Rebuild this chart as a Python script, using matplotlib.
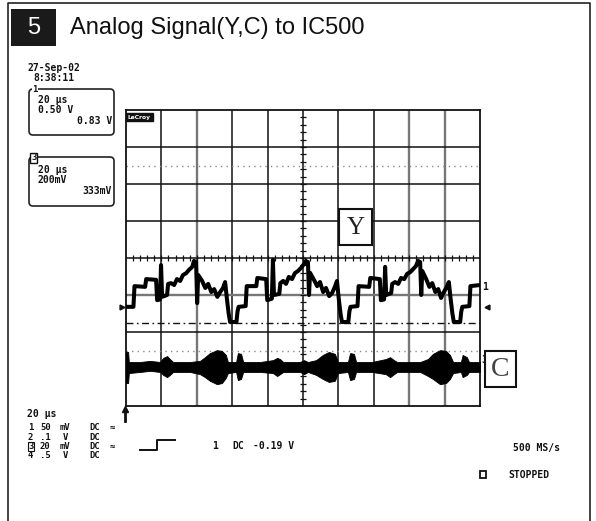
import matplotlib.pyplot as plt
from matplotlib.patches import Rectangle, FancyBboxPatch
import numpy as np

W, H = 596, 521

# channel 1 (Y signal) trace in divisions (20 us/div)
y_t = [0.00, 0.21, 0.24, 0.54, 0.57, 0.85, 0.88, 0.96, 0.99, 1.02, 1.16, 1.19, 1.27, 1.36,
       1.44, 1.53, 1.61, 1.70, 1.78, 1.87, 1.92, 1.98, 2.01, 2.04, 2.15, 2.24, 2.32, 2.41,
       2.49, 2.58, 2.66, 2.74, 2.80, 2.85, 2.90, 2.94, 3.12, 3.15,
       3.18, 3.38, 3.41, 3.68, 3.71, 3.96, 3.99, 4.12, 4.15, 4.18, 4.33, 4.36, 4.44, 4.52,
       4.60, 4.69, 4.77, 4.86, 4.94, 5.03, 5.08, 5.14, 5.17, 5.20, 5.31, 5.40, 5.48, 5.57,
       5.65, 5.74, 5.82, 5.90, 5.96, 6.01, 6.06, 6.10, 6.28, 6.31,
       6.34, 6.54, 6.57, 6.87, 6.90, 7.17, 7.20, 7.29, 7.32, 7.35, 7.49, 7.52, 7.60, 7.69,
       7.77, 7.86, 7.94, 8.03, 8.11, 8.19, 8.25, 8.31, 8.34, 8.37, 8.48, 8.57, 8.65, 8.74,
       8.82, 8.90, 8.98, 9.06, 9.12, 9.17, 9.22, 9.26, 9.44, 9.47,
       9.50, 9.70, 9.73, 10.00]
y_v = [-1.32, -1.32, -0.76, -0.78, -0.57, -0.59, -1.14, -1.12, -0.19, -1.05, -1.00, -0.70, -0.68, -0.73,
       -0.57, -0.62, -0.46, -0.41, -0.32, -0.24, -0.08, -0.11, -1.22, -0.46, -0.62, -0.81, -0.70, -0.92,
       -0.84, -1.05, -0.92, -0.81, -0.65, -1.10, -1.50, -1.73, -1.73, -1.45,
       -1.32, -1.30, -0.76, -0.76, -0.54, -0.57, -1.14, -1.10, -0.05, -1.00, -0.97, -0.68, -0.62, -0.70,
       -0.51, -0.57, -0.41, -0.35, -0.27, -0.16, -0.08, -0.11, -1.00, -0.40, -0.59, -0.76, -0.65, -0.92,
       -0.81, -1.03, -0.95, -0.78, -0.62, -1.10, -1.50, -1.73, -1.73, -1.45,
       -1.32, -1.30, -0.76, -0.78, -0.54, -0.57, -1.14, -1.12, -0.24, -1.00, -0.95, -0.70, -0.65, -0.70,
       -0.54, -0.57, -0.43, -0.38, -0.30, -0.22, -0.08, -0.11, -1.00, -0.35, -0.57, -0.78, -0.68, -0.92,
       -0.84, -1.08, -0.92, -0.78, -0.65, -1.10, -1.50, -1.73, -1.73, -1.45,
       -1.32, -1.30, -0.76, -0.73]

# channel 3 (C signal) envelope, divisions
c_t = [0.00, 0.06, 0.08, 0.40, 0.68, 0.96, 1.05, 1.16, 1.24, 1.33, 1.81, 2.09, 2.23, 2.37,
       2.57, 2.71, 2.82, 2.88, 3.11, 3.16, 3.25, 3.31, 3.79, 4.15, 4.27, 4.35, 4.44, 4.92,
       5.03, 5.14, 5.37, 5.56, 5.73, 5.90, 5.99, 6.27, 6.33, 6.44, 6.50, 6.95, 7.34, 7.46,
       7.57, 7.66, 8.31, 8.53, 8.67, 8.87, 9.04, 9.15, 9.24, 9.46, 9.51, 9.63, 9.69, 10.00]
c_hi = [-2.54, -2.54, -2.81, -2.81, -2.78, -2.81, -2.70, -2.65, -2.73, -2.81, -2.81, -2.78, -2.68, -2.57,
        -2.49, -2.51, -2.62, -2.81, -2.81, -2.57, -2.59, -2.81, -2.81, -2.76, -2.70, -2.73, -2.81, -2.81,
        -2.76, -2.81, -2.76, -2.62, -2.54, -2.59, -2.81, -2.81, -2.57, -2.59, -2.81, -2.81, -2.73, -2.68,
        -2.76, -2.81, -2.81, -2.73, -2.59, -2.49, -2.51, -2.62, -2.81, -2.81, -2.62, -2.68, -2.81, -2.81]
c_lo = [-3.38, -3.38, -3.11, -3.08, -3.05, -3.08, -3.16, -3.22, -3.16, -3.08, -3.08, -3.14, -3.22, -3.32,
        -3.41, -3.38, -3.24, -3.11, -3.08, -3.30, -3.27, -3.08, -3.08, -3.11, -3.19, -3.14, -3.08, -3.08,
        -3.14, -3.08, -3.16, -3.27, -3.35, -3.32, -3.11, -3.08, -3.30, -3.27, -3.08, -3.08, -3.14, -3.22,
        -3.14, -3.08, -3.08, -3.19, -3.27, -3.41, -3.38, -3.27, -3.11, -3.08, -3.22, -3.16, -3.08, -3.08]

# cursor levels (divisions)
dotted_levels = [2.5, -2.5]
dashdot_level = -1.75

# readouts
rows_ch = ['1', '2', '3', '4']
rows_val = ['50', '.1', '20', '.5']
rows_unit = ['mV', 'V', 'mV', 'V']
rows_bw = ['\u2248', '', '\u2248', '']

mono = dict(family='DejaVu Sans Mono', fontsize=7.0, fontweight='bold', color='#111111', va='center')
small = dict(mono, fontsize=6.4)

fig = plt.figure(figsize=(W / 100, H / 100), dpi=100)

# scope screen
ax = fig.add_axes([126 / W, 1 - 406 / H, 354 / W, 296 / H])
ax.set_xlim(0, 10)
ax.set_ylim(-4, 4)
ax.set_xticks([])
ax.set_yticks([])
for s in ax.spines.values():
    s.set_linewidth(1.3)
    s.set_color('#111111')

for i in range(1, 10):
    gray = i in (2, 8, 9)
    ax.axvline(i, color='#777777' if gray else '#111111', lw=1.7 if gray else 1.1, zorder=1)
for j in range(-3, 4):
    gray = j == -1
    ax.axhline(j, color='#777777' if gray else '#111111', lw=1.7 if gray else 1.1, zorder=1)

# center-line tick marks
tk = np.arange(0.2, 10, 0.2)
ax.vlines(tk, -0.07, 0.07, color='#111111', lw=0.9, zorder=1)
tk = np.arange(-3.8, 4, 0.2)
ax.hlines(tk, 4.92, 5.08, color='#111111', lw=0.9, zorder=1)

for lv in dotted_levels:
    ax.axhline(lv, color='#8a8a8a', lw=1.0, linestyle=(0, (1, 3)), zorder=1)
ax.axhline(dashdot_level, color='#111111', lw=1.0, linestyle=(0, (5, 2.5, 1.2, 2.5)), zorder=1)

ax.plot(y_t, y_v, color='black', lw=2.9, zorder=3)
ax.fill_between(c_t, c_lo, c_hi, color='black', lw=0.6, zorder=3)

# page overlay
pg = fig.add_axes([0, 0, 1, 1], facecolor='none')
pg.set_xlim(0, W)
pg.set_ylim(H, 0)
pg.axis('off')

pg.plot([8, 8, 590, 590], [H, 3, 3, H], color='#222222', lw=1.2)

pg.add_patch(Rectangle((11, 9), 45, 37, fc='#1a1a1a', ec='none'))
pg.text(33.5, 28, '5', color='white', fontsize=17, family='Liberation Sans', ha='center', va='center')
pg.text(70, 28, 'Analog Signal(Y,C) to IC500', color='#111111', fontsize=17,
        family='Liberation Sans', va='center')

pg.text(27, 68, '27-Sep-02', **mono)
pg.text(33, 78, '8:38:11', **mono)

pg.add_patch(FancyBboxPatch((29, 89), 85, 46, boxstyle='round,pad=0,rounding_size=4',
                            fc='white', ec='#222222', lw=1.2))
pg.text(32, 90, '1', bbox=dict(fc='white', ec='none', pad=0.2), **small)
pg.text(38, 100, '20 \u00b5s', **mono)
pg.text(38, 110, '0.50 V', **mono)
pg.text(112, 121, '0.83 V', ha='right', **mono)

pg.add_patch(FancyBboxPatch((29, 157), 85, 49, boxstyle='round,pad=0,rounding_size=4',
                            fc='white', ec='#222222', lw=1.2))
pg.text(31, 158, '3', bbox=dict(fc='white', ec='#111111', lw=1, pad=0.4), **small)
pg.text(38, 170, '20 \u00b5s', **mono)
pg.text(38, 180, '200mV', **mono)
pg.text(112, 191, '333mV', ha='right', **mono)

# LeCroy logo
pg.text(128, 117, 'LeCroy', color='white', family='DejaVu Sans', fontsize=4.3, fontweight='bold',
        va='center', bbox=dict(fc='#111111', ec='#111111', pad=1.2))

# trace markers
pg.text(482, 287, '1', **mono)
pg.plot(122, 307, marker='>', ms=3.5, color='#111111')
pg.plot(487, 307, marker='<', ms=3.5, color='#111111')
pg.text(481, 360, '3', **mono)
pg.plot([125, 125], [409, 421], color='#111111', lw=2)
pg.plot(125, 409, marker='^', ms=4, color='#111111')

# Y and C labels
pg.add_patch(Rectangle((339, 209), 33, 36, fc='white', ec='#111111', lw=1.5, zorder=5))
pg.text(355.5, 228, 'Y', family='Liberation Serif', fontsize=18, color='#222222',
        ha='center', va='center', zorder=6)
pg.add_patch(Rectangle((485, 351), 31, 36, fc='white', ec='#111111', lw=1.5, zorder=5))
pg.text(500.5, 369, 'C', family='Liberation Serif', fontsize=20, color='#444444',
        ha='center', va='center', zorder=6)

# bottom readouts
pg.text(27, 414, '20 \u00b5s', **mono)
for i in range(4):
    yy = 428 + 9.3 * i
    if rows_ch[i] == '3':
        pg.text(28, yy, rows_ch[i], bbox=dict(fc='white', ec='#111111', lw=0.8, pad=0.1), **small)
    else:
        pg.text(28, yy, rows_ch[i], **small)
    pg.text(40, yy, rows_val[i], **small)
    pg.text(65, yy, rows_unit[i], ha='center', **small)
    pg.text(89, yy, 'DC', **small)
    pg.text(110, yy, rows_bw[i], **small)

pg.plot([140, 157, 157, 175], [450, 450, 440, 440], color='#111111', lw=1.4)
pg.text(212, 446, '1', **mono)
pg.text(232, 446, 'DC', **mono)
pg.text(253, 446, '-0.19 V', **mono)

pg.text(513, 448, '500 MS/s', **mono)
pg.add_patch(Rectangle((480, 471), 6, 7, fc='white', ec='#111111', lw=1.3))
pg.text(508, 475, 'STOPPED', **mono)

plt.savefig('out.png', dpi=100)
